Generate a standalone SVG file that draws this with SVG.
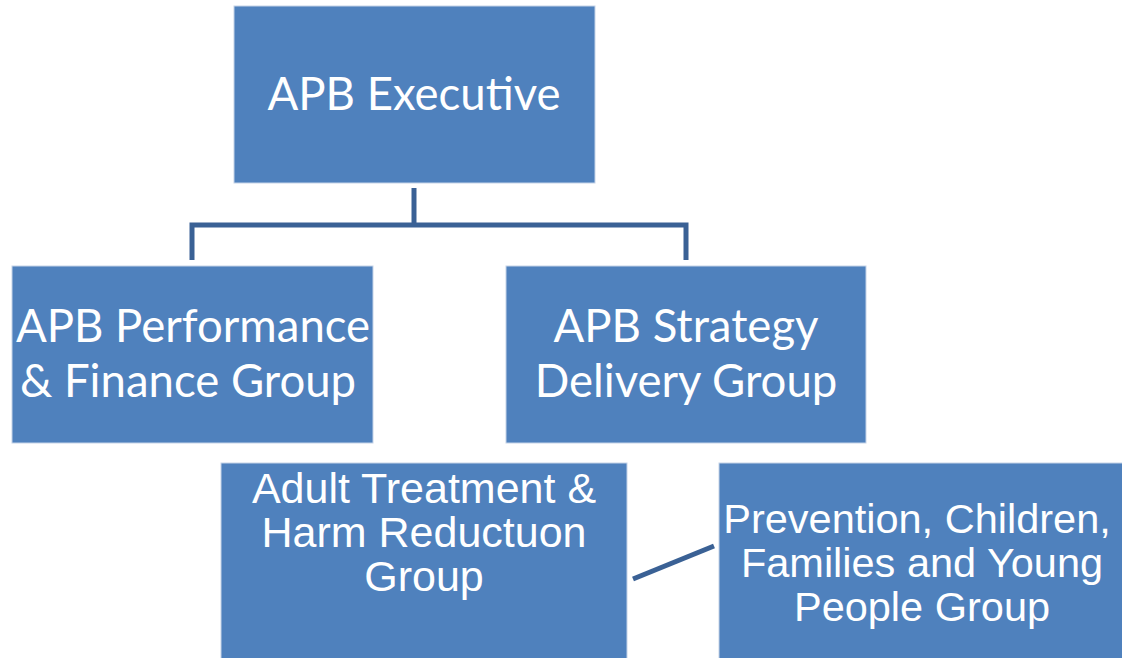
<svg xmlns="http://www.w3.org/2000/svg" width="1122" height="658" viewBox="0 0 1122 658">
<style>
.box{fill:#4F81BD;stroke:#C5D3E8;stroke-width:1}
.t1{font-family:Lato,"Open Sans","Liberation Sans",sans-serif;font-size:45.5px;fill:#fff;text-anchor:middle}
.t2{font-family:"Liberation Sans",Arial,sans-serif;font-size:41.5px;fill:#fff;text-anchor:middle}
.c{stroke:#3A6195;stroke-width:5;fill:none}
</style>
<rect width="1122" height="658" fill="#fff"/>
<g id="connectors">
<polyline class="c" points="414,188 414,225"/>
<polyline class="c" points="192,260 192,225 686,225 686,260"/>
<line class="c" x1="633" y1="579" x2="714" y2="546"/>
</g>
<g id="exec">
<rect class="box" x="234" y="6" width="361" height="177"/>
<text class="t1" x="414" y="110">APB Executive</text>
</g>
<g id="perf">
<rect class="box" x="12" y="266" width="361" height="177"/>
<text class="t1" x="193" y="342">APB Performance</text>
<text class="t1" x="188" y="397">&amp; Finance Group</text>
</g>
<g id="strategy">
<rect class="box" x="506" y="266" width="360" height="177"/>
<text class="t1" x="686" y="342">APB Strategy</text>
<text class="t1" x="686" y="397">Delivery Group</text>
</g>
<g id="adult">
<rect class="box" x="221" y="463" width="406" height="200"/>
<text class="t2" x="424" y="503" style="font-size:43px">Adult Treatment &amp;</text>
<text class="t2" x="424" y="547" style="font-size:43px">Harm Reductuon</text>
<text class="t2" x="424" y="591" style="font-size:43px">Group</text>
</g>
<g id="prevention">
<rect class="box" x="719" y="463" width="408" height="200"/>
<text class="t2" x="917" y="533">Prevention, Children,</text>
<text class="t2" x="922" y="577">Families and Young</text>
<text class="t2" x="922" y="621">People Group</text>
</g>
</svg>
